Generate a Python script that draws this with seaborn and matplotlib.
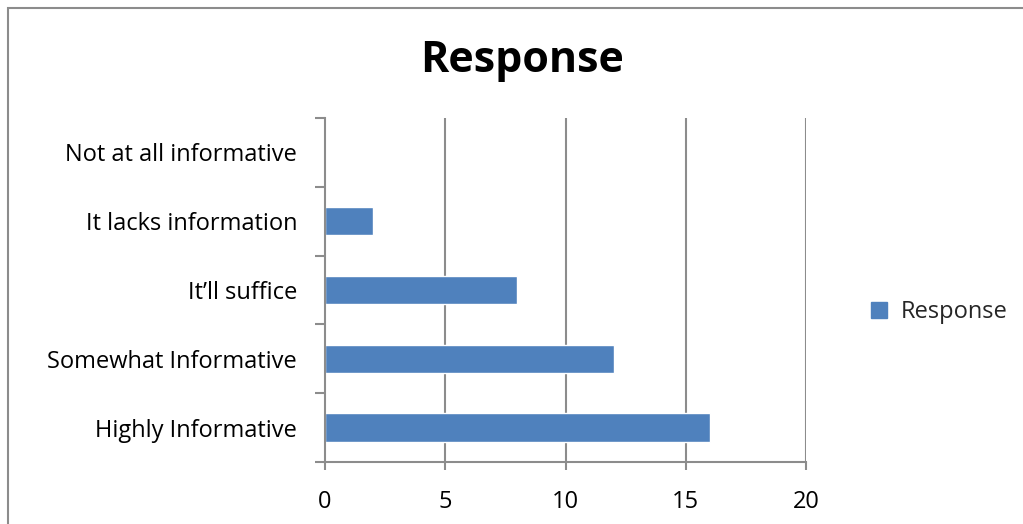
import matplotlib
matplotlib.use("Agg")
import matplotlib.pyplot as plt
import seaborn as sns
import pandas as pd
from matplotlib.patches import Rectangle
from matplotlib.lines import Line2D

categories = ["Not at all informative", "It lacks information", "It\u2019ll suffice",
              "Somewhat Informative", "Highly Informative"]
values = [0, 2, 8, 12, 16]
series_name = "Response"
xticks = [0, 5, 10, 15, 20]

sns.set_theme(style="white")
plt.rcParams['font.family'] = ['Open Sans', 'DejaVu Sans']

df = pd.DataFrame({"category": categories, "value": values})

fig = plt.figure(figsize=(10.23, 5.24), dpi=100)
ax = fig.add_axes([325/1023, 62/524, 481/1023, 344/524])

bar_color = "#4F81BD"
sns.barplot(data=df, y="category", x="value", order=categories, color=bar_color,
            width=0.41, orient="h", ax=ax, saturation=1)

grey = "#8c8c8c"
ax.set_xlim(0, 20)
ax.set_ylim(4.5, -0.5)
ax.set_xticks(xticks)
ax.set_xticklabels([str(t) for t in xticks], fontsize=17)
ax.set_xlabel("")
ax.set_ylabel("")
ax.tick_params(axis='y', which='major', left=False, length=0, pad=20, labelsize=17)
ax.set_yticks([i - 0.5 for i in range(len(categories) + 1)], minor=True)
ax.tick_params(axis='y', which='minor', left=True, length=7, width=1.5, color=grey, direction='out')
ax.tick_params(axis='x', which='major', bottom=True, length=6, width=1.5, color=grey,
               direction='out', pad=14)
for lbl in ax.get_yticklabels() + ax.get_xticklabels():
    lbl.set_color("black")

ax.grid(False)
for t in xticks[1:]:
    ax.axvline(t, color=grey, lw=1.5, zorder=0)

for s in ["top", "right"]:
    ax.spines[s].set_visible(False)
for s in ["left", "bottom"]:
    ax.spines[s].set_color(grey)
    ax.spines[s].set_linewidth(1.5)

fig.text(522/1023, 1 - 60/524, "Response", ha="center", va="center",
         fontsize=31, fontweight="bold", color="black")

handle = Line2D([], [], marker="s", color=bar_color, linestyle="none", markersize=11)
fig.legend([handle], [series_name], loc="center left",
           bbox_to_anchor=(846/1023, 1 - 312/524), frameon=False, fontsize=17,
           handletextpad=0.4, handlelength=1.0)

fig.patches.append(Rectangle((8/1023, -0.1), 1.2, 1 - 8/524 + 0.1,
                             transform=fig.transFigure, fill=False,
                             edgecolor=grey, lw=1.5, zorder=-1))

fig.savefig("out.png", dpi=100)
